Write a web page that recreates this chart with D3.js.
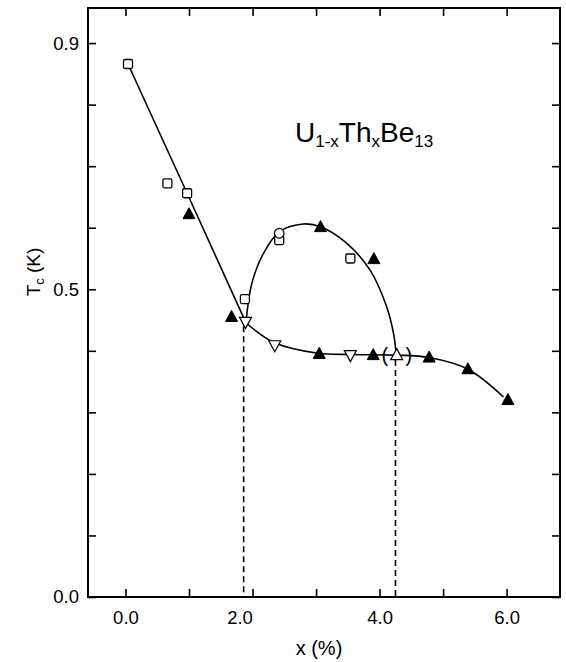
<!DOCTYPE html>
<html><head><meta charset="utf-8">
<script src="https://cdn.jsdelivr.net/npm/d3@7"></script>
<style>
body{margin:0;background:#fff}
text{font-family:Arial,"Liberation Sans",Helvetica,sans-serif;fill:#000}
</style>
</head><body>
<svg id="chart" width="566" height="662"></svg>
<script>
// ---- data ----
const squaresX = [0.04, 0.66, 0.97, 1.88, 2.42, 3.54];
const squaresY = [0.866, 0.672, 0.656, 0.484, 0.580, 0.550];
const circlesX = [2.42];
const circlesY = [0.591];
const filledUpX = [1.00, 1.67, 3.07, 3.91, 3.05, 3.90, 4.78, 5.39, 6.02];
const filledUpY = [0.622, 0.455, 0.601, 0.549, 0.395, 0.393, 0.389, 0.370, 0.320];
const openDownX = [1.89, 2.35, 3.54];
const openDownY = [0.447, 0.409, 0.393];
const openUpX = [4.27];
const openUpY = [0.393];
// guide curves
const lineX = [0.04, 0.97, 1.89];
const lineY = [0.866, 0.656, 0.447];
const lowerX = [1.89, 2.35, 3.03, 3.54, 4.27, 4.78, 5.39, 5.95];
const lowerY = [0.446, 0.413, 0.396, 0.394, 0.393, 0.389, 0.370, 0.325];
const domeX = [1.90, 1.99, 2.17, 2.43, 2.80, 3.06, 3.48, 3.85, 4.11, 4.22, 4.26];
const domeY = [0.450, 0.510, 0.558, 0.594, 0.606, 0.602, 0.575, 0.531, 0.472, 0.428, 0.396];
const dashedX = [1.86, 4.25];
const dashedTop = [0.44, 0.385];
// ticks
const xTicks = [0, 1, 2, 3, 4, 5, 6];
const xTickLabels = ["0.0", "", "2.0", "", "4.0", "", "6.0"];
const yTicks = [0, 0.1, 0.2, 0.3, 0.4, 0.5, 0.6, 0.7, 0.8, 0.9];
const yTickLabels = ["0.0", "", "", "", "", "0.5", "", "", "", "0.9"];
const titleParts = [["U", false], ["1-x", true], ["Th", false], ["x", true], ["Be", false], ["13", true]];

// ---- layout ----
const L = 88, R = 560, T = 8, B = 597;
const x = d3.scaleLinear().domain([-0.59, 6.84]).range([L, R]);
const y = d3.scaleLinear().domain([0, 0.957]).range([B, T]);
const svg = d3.select("#chart");
const zip = (a, b) => a.map((v, i) => [v, b[i]]);

// frame
svg.append("rect").attr("x", L).attr("y", T).attr("width", R - L).attr("height", B - T)
  .attr("fill", "none").attr("stroke", "#000").attr("stroke-width", 2);

// axes (inward ticks)
const tickLen = 8;
const gBottom = svg.append("g").attr("transform", `translate(0,${B})`)
  .call(d3.axisBottom(x).tickValues(xTicks).tickSizeInner(-tickLen).tickSizeOuter(0)
  .tickFormat((d, i) => xTickLabels[i]));
gBottom.selectAll(".tick text").attr("y", 14).attr("dy", "0.71em").style("font-size", "18.5px")
  .attr("dx", d => d === 2 ? -13 : 0);
svg.append("g").attr("transform", `translate(0,${T})`)
  .call(d3.axisTop(x).tickValues(xTicks).tickSizeInner(-tickLen).tickSizeOuter(0).tickFormat(""));
const gLeft = svg.append("g").attr("transform", `translate(${L},0)`)
  .call(d3.axisLeft(y).tickValues(yTicks).tickSizeInner(-tickLen).tickSizeOuter(0)
  .tickFormat((d, i) => yTickLabels[i]));
gLeft.selectAll(".tick text").attr("x", -9).style("font-size", "18.5px");
svg.append("g").attr("transform", `translate(${R},0)`)
  .call(d3.axisRight(y).tickValues(yTicks).tickSizeInner(-tickLen).tickSizeOuter(0).tickFormat(""));
svg.selectAll(".domain").remove();
svg.selectAll(".tick line").attr("stroke", "#000").attr("stroke-width", 1.6);
svg.selectAll(".tick text").style("font-family", "Arial,'Liberation Sans',sans-serif").attr("fill", "#000");

// axis titles
svg.append("text").attr("x", 319).attr("y", 655).attr("text-anchor", "middle")
  .style("font-size", "20px").text("x (%)");
const yl = svg.append("text").attr("transform", "translate(40,272) rotate(-90)")
  .attr("text-anchor", "middle").style("font-size", "19px");
yl.append("tspan").text("T");
yl.append("tspan").attr("dy", 4).style("font-size", "13px").text("c");
yl.append("tspan").attr("dy", -4).text(" (K)");

// chart title
const tt = svg.append("text").attr("x", 295).attr("y", 142).style("font-size", "28px");
let prevSub = false;
titleParts.forEach(([s, sub]) => {
  const dy = sub === prevSub ? 0 : (sub ? 5 : -5);
  tt.append("tspan").attr("dy", dy).style("font-size", sub ? "17px" : "28px").text(s);
  prevSub = sub;
});

// dashed verticals
svg.selectAll(".dash").data(zip(dashedX, dashedTop)).enter().append("line")
  .attr("x1", d => x(d[0])).attr("x2", d => x(d[0]))
  .attr("y1", d => y(d[1])).attr("y2", y(0))
  .attr("stroke", "#000").attr("stroke-width", 1.6).attr("stroke-dasharray", "6,4");

// curves
const straight = d3.line().x(d => x(d[0])).y(d => y(d[1]));
const smooth = d3.line().x(d => x(d[0])).y(d => y(d[1])).curve(d3.curveCatmullRom.alpha(0.5));
svg.append("path").attr("d", straight(zip(lineX, lineY)))
  .attr("fill", "none").attr("stroke", "#000").attr("stroke-width", 1.6);
svg.append("path").attr("d", smooth(zip(lowerX, lowerY)))
  .attr("fill", "none").attr("stroke", "#000").attr("stroke-width", 1.6);
svg.append("path").attr("d", smooth(zip(domeX, domeY)))
  .attr("fill", "none").attr("stroke", "#000").attr("stroke-width", 1.6);

// parentheses around uncertain point
openUpX.forEach((v, i) => {
  svg.append("text").attr("x", x(v) - 12).attr("y", y(openUpY[i]) + 7)
    .attr("text-anchor", "middle").style("font-size", "20px").text("(");
  svg.append("text").attr("x", x(v) + 12).attr("y", y(openUpY[i]) + 7)
    .attr("text-anchor", "middle").style("font-size", "20px").text(")");
});

// markers
const upTri = "M0,-6.5L6,4.5L-6,4.5Z";
const downTri = "M0,6.5L6,-4.5L-6,-4.5Z";
svg.selectAll(".sq").data(zip(squaresX, squaresY)).enter().append("rect")
  .attr("x", d => x(d[0]) - 4.5).attr("y", d => y(d[1]) - 4.5)
  .attr("width", 9).attr("height", 9).attr("rx", 1.5)
  .attr("fill", "#fff").attr("stroke", "#000").attr("stroke-width", 1.3);
svg.selectAll(".ci").data(zip(circlesX, circlesY)).enter().append("circle")
  .attr("cx", d => x(d[0])).attr("cy", d => y(d[1])).attr("r", 4.8)
  .attr("fill", "#fff").attr("stroke", "#000").attr("stroke-width", 1.3);
svg.selectAll(".fu").data(zip(filledUpX, filledUpY)).enter().append("path")
  .attr("transform", d => `translate(${x(d[0])},${y(d[1])})`).attr("d", upTri)
  .attr("fill", "#000").attr("stroke", "#000").attr("stroke-width", 1);
svg.selectAll(".od").data(zip(openDownX, openDownY)).enter().append("path")
  .attr("transform", d => `translate(${x(d[0])},${y(d[1])})`).attr("d", downTri)
  .attr("fill", "#fff").attr("stroke", "#000").attr("stroke-width", 1.2);
svg.selectAll(".ou").data(zip(openUpX, openUpY)).enter().append("path")
  .attr("transform", d => `translate(${x(d[0])},${y(d[1])})`).attr("d", upTri)
  .attr("fill", "#fff").attr("stroke", "#000").attr("stroke-width", 1.2);
</script>
</body></html>
